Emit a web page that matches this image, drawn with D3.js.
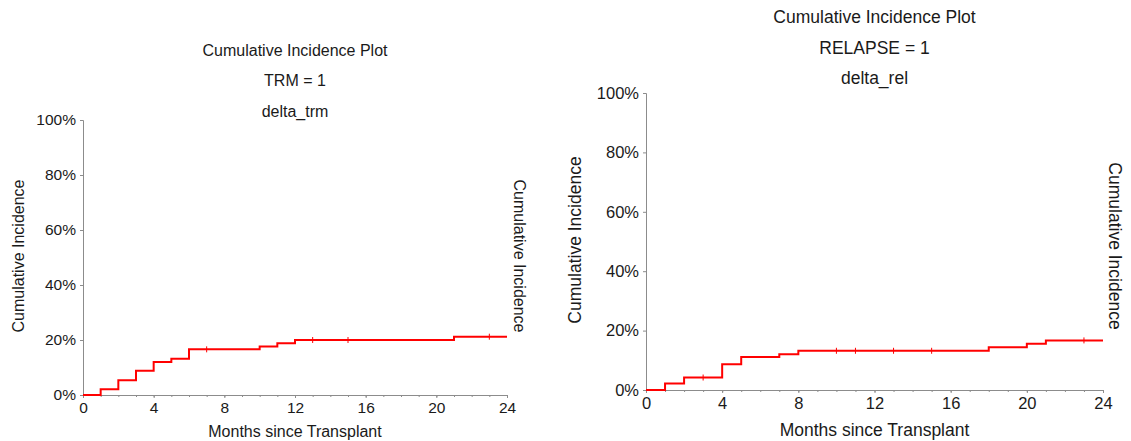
<!DOCTYPE html>
<html>
<head>
<meta charset="utf-8">
<script src="https://cdn.jsdelivr.net/npm/d3@7"></script>
<style>
  body { margin: 0; background: #fff; }
  svg text { font-family: "Liberation Sans", Arial, sans-serif; fill: #1a1a1a; }
</style>
</head>
<body>
<div id="chart"></div>
<script>
// TRM panel
const trmTimes = [0, 1, 2, 3, 4, 5, 6, 10, 11, 12, 21, 24];
const trmValues = [0, 2.1, 5.4, 8.8, 12.0, 13.2, 16.6, 17.6, 18.8, 20.0, 21.2, 21.2];
const trmCensored = [7, 13, 15, 23];
const trmTitles = ["Cumulative Incidence Plot", "TRM = 1", "delta_trm"];

// Relapse panel
const relTimes = [0, 1, 2, 4, 5, 7, 8, 18, 20, 21, 24];
const relValues = [0, 2.2, 4.2, 8.7, 11.1, 12.0, 13.2, 14.4, 15.6, 16.7, 16.7];
const relCensored = [3, 10, 11, 13, 15, 23];
const relTitles = ["Cumulative Incidence Plot", "RELAPSE = 1", "delta_rel"];

const xTicks = [0, 4, 8, 12, 16, 20, 24];
const yTicks = [0, 20, 40, 60, 80, 100];
const xLabel = "Months since Transplant";
const yLabel = "Cumulative Incidence";

const width = 1131, height = 441;
const svg = d3.select("#chart").append("svg")
    .attr("width", width)
    .attr("height", height);

function stepValue(times, values, t) {
    let v = values[0];
    times.forEach((tt, i) => { if (tt <= t) v = values[i]; });
    return v;
}

function drawPanel(p) {
    const x = d3.scaleLinear().domain([0, 24]).range([p.left, p.right]);
    const y = d3.scaleLinear().domain([0, 100]).range([p.bottom, p.top]);
    const g = svg.append("g");
    const fs = p.font;

    // axes, plus minor monthly ticks on x
    g.append("g")
        .attr("transform", `translate(0,${p.bottom})`)
        .call(d3.axisBottom(x).tickValues(xTicks).tickSize(3).tickPadding(4));
    g.append("g")
        .attr("transform", `translate(0,${p.bottom})`)
        .call(d3.axisBottom(x).tickValues(d3.range(0, 25)).tickSize(2).tickFormat(""))
        .select(".domain").remove();
    g.append("g")
        .attr("transform", `translate(${p.left},0)`)
        .call(d3.axisLeft(y).tickValues(yTicks).tickSize(3).tickPadding(4)
            .tickFormat(d => d + "%"));

    g.selectAll(".domain, .tick line").attr("stroke", "#8c8c8c");
    g.selectAll(".tick text")
        .style("font-size", p.tickFont + "px")
        .attr("fill", "#1a1a1a");

    // step curve
    const pts = p.times.map((t, i) => [t, p.values[i]]);
    const line = d3.line()
        .x(d => x(d[0]))
        .y(d => y(d[1]))
        .curve(d3.curveStepAfter);
    g.append("path")
        .datum(pts)
        .attr("d", line)
        .attr("fill", "none")
        .attr("stroke", "#ff0000")
        .attr("stroke-width", 2);

    // censor marks
    g.selectAll("line.censor").data(p.censored).enter()
        .append("line")
        .attr("class", "censor")
        .attr("x1", d => x(d)).attr("x2", d => x(d))
        .attr("y1", d => y(stepValue(p.times, p.values, d)) - 3)
        .attr("y2", d => y(stepValue(p.times, p.values, d)) + 3)
        .attr("stroke", "#ff0000")
        .attr("stroke-width", 1);

    const cx = (p.left + p.right) / 2;
    p.titles.forEach((t, i) => {
        g.append("text")
            .attr("x", cx)
            .attr("y", p.titleY + i * 30.5)
            .attr("text-anchor", "middle")
            .style("font-size", fs + "px")
            .text(t);
    });

    g.append("text")
        .attr("x", cx)
        .attr("y", p.xLabelY)
        .attr("text-anchor", "middle")
        .style("font-size", fs + "px")
        .text(xLabel);

    g.append("text")
        .attr("transform", `translate(${p.yLabelX},${p.yLabelMid}) rotate(-90)`)
        .attr("text-anchor", "middle")
        .style("font-size", fs + "px")
        .text(yLabel);

    g.append("text")
        .attr("transform", `translate(${p.y2LabelX},${p.y2LabelMid}) rotate(90)`)
        .attr("text-anchor", "middle")
        .style("font-size", fs + "px")
        .text(yLabel);
}

drawPanel({
    left: 83, right: 507, top: 120, bottom: 395, font: 16, tickFont: 15.5,
    times: trmTimes, values: trmValues, censored: trmCensored, titles: trmTitles,
    titleY: 55.5, xLabelY: 436.5, yLabelX: 24, yLabelMid: 256, y2LabelX: 514, y2LabelMid: 256
});

drawPanel({
    left: 646, right: 1103, top: 93, bottom: 390, font: 17.5, tickFont: 16.5,
    times: relTimes, values: relValues, censored: relCensored, titles: relTitles,
    titleY: 23, xLabelY: 436, yLabelX: 581, yLabelMid: 240, y2LabelX: 1109, y2LabelMid: 246
});
</script>
</body>
</html>
